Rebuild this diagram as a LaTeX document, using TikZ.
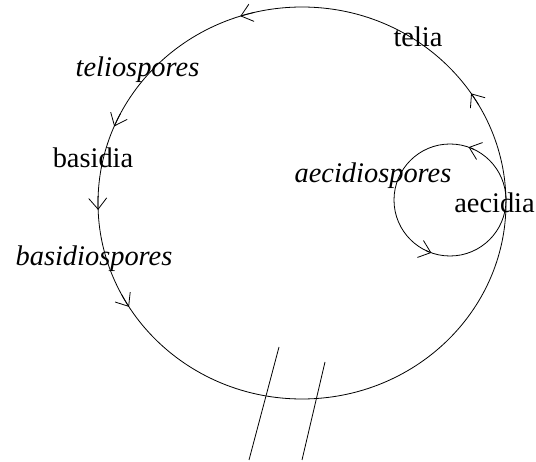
\documentclass[tikz,border=0pt]{standalone}
\usepackage{fontspec}
\setmainfont{Liberation Serif}
\usetikzlibrary{arrows.meta,calc}
\begin{document}
\begin{tikzpicture}[x=1pt,y=1pt,
  line width=0.8pt,
  lbl/.style={anchor=base,inner sep=0pt,font=\fontsize{28.4}{32}\selectfont},
  sporelbl/.style={lbl,font=\fontsize{28.4}{32}\selectfont\itshape},
  tipstyle/.style={-{Straight Barb[length=11pt,width=18pt,line width=0.8pt]}}]
\useasboundingbox (0,0) rectangle (536,461);
% centres
\coordinate (C) at (302,258);
\coordinate (c) at (450,261);
% big cycle
\draw (C) ellipse [x radius=204, y radius=196];
\foreach \a in {107.6,157,182,212,34}{
  \draw[tipstyle] ($(C)+(\a-4:204 and 196)$) arc[start angle=\a-4,end angle=\a,x radius=204,y radius=196];
}
% small cycle
\draw (c) circle [radius=56];
\foreach \a in {70.6,250.6}{
  \draw[tipstyle] ($(c)+(\a-6:56)$) arc[start angle=\a-6,end angle=\a,radius=56];
}
% labels
\node[sporelbl] (teliospores) at (137.5,384) {teliospores};
\node[lbl] (basidia) at (93,293) {basidia};
\node[sporelbl] (basidiospores) at (94,195) {basidiospores};
\node[lbl] (telia) at (418,414) {telia};
\node[sporelbl] (aecidiospores) at (373,278) {aecidiospores};
\node[lbl] (aecidia) at (494.5,248) {aecidia};
% break lines
\coordinate (l1a) at (279,114);
\coordinate (l1b) at (249,1);
\coordinate (l2a) at (325,99);
\coordinate (l2b) at (302,1);
\draw (l1a) -- (l1b);
\draw (l2a) -- (l2b);
\end{tikzpicture}
\end{document}
